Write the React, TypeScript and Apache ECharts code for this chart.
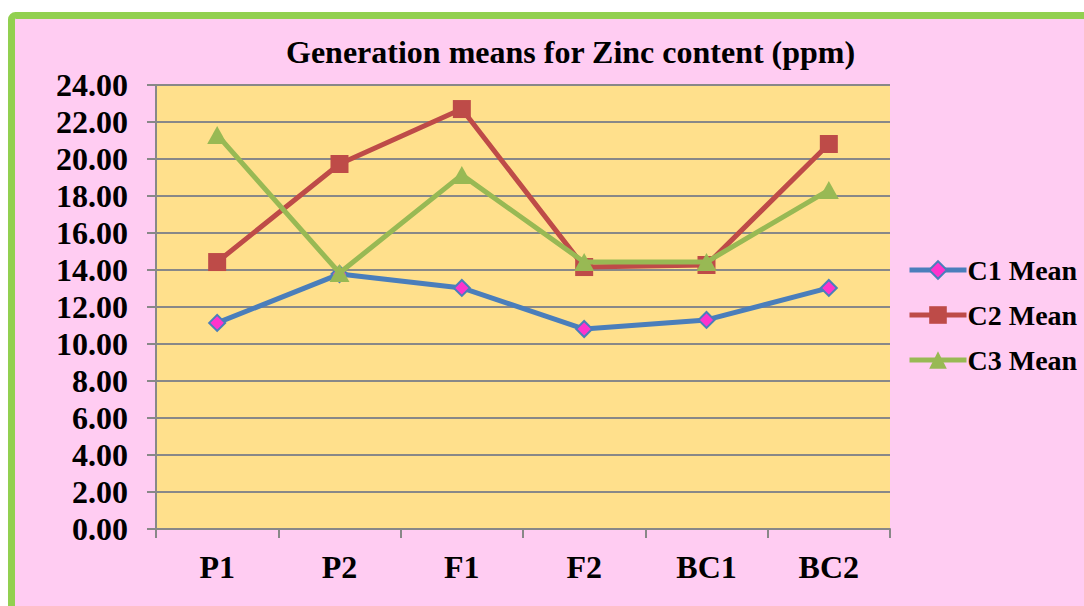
import React, { useEffect, useRef } from "react";
import * as echarts from "echarts";

const categories = ["P1", "P2", "F1", "F2", "BC1", "BC2"];
const c1Mean = [11.14, 13.78, 13.03, 10.81, 11.3, 13.03];
const c2Mean = [14.43, 19.73, 22.7, 14.16, 14.27, 20.81];
const c3Mean = [21.3, 13.84, 19.14, 14.43, 14.43, 18.32];
const seriesNames = ["C1 Mean", "C2 Mean", "C3 Mean"];
const titleText = "Generation means for Zinc content (ppm)";

const FONT = "'Liberation Serif', 'Times New Roman', serif";

export default function App() {
  const ref = useRef<HTMLDivElement>(null);
  useEffect(() => {
    if (!ref.current) return;
    const chart = echarts.init(ref.current, undefined, { renderer: "svg" });
    const gray = "#888888";
    chart.setOption({
      animation: false,
      backgroundColor: "#ffffff",
      graphic: [
        {
          type: "rect",
          z: -10,
          shape: { x: 11.5, y: 15.5, width: 1100, height: 620, r: 4 },
          style: { fill: "#FFCCF2", stroke: "#92D050", lineWidth: 7 },
        },
      ],
      title: {
        text: titleText,
        left: 286,
        top: 36,
        padding: 0,
        textStyle: { fontFamily: FONT, fontWeight: "bold", fontSize: 32, color: "#000" },
      },
      legend: {
        orient: "vertical",
        left: 907,
        top: 256,
        itemWidth: 57,
        itemHeight: 22,
        itemGap: 17,
        padding: 0,
        data: seriesNames,
        lineStyle: { width: 5 },
        textStyle: { fontFamily: FONT, fontWeight: "bold", fontSize: 28, color: "#000", padding: [0, 0, 0, -4] },
      },
      grid: {
        left: 156,
        top: 85,
        width: 734,
        height: 444,
        show: true,
        backgroundColor: "#FFE08C",
        borderWidth: 0,
      },
      xAxis: {
        type: "category",
        data: categories,
        boundaryGap: true,
        axisLine: { show: true, lineStyle: { color: gray, width: 2 } },
        axisTick: { show: true, length: 9, interval: 0, lineStyle: { color: gray, width: 2 } },
        axisLabel: { margin: 22, fontFamily: FONT, fontWeight: "bold", fontSize: 32, color: "#000" },
        splitLine: { show: false },
      },
      yAxis: {
        type: "value",
        min: 0,
        max: 24,
        interval: 2,
        axisLine: { show: true, lineStyle: { color: gray, width: 2 } },
        axisTick: { show: true, length: 9, lineStyle: { color: gray, width: 2 } },
        axisLabel: {
          margin: 28,
          formatter: (v: number) => v.toFixed(2),
          fontFamily: FONT,
          fontWeight: "bold",
          fontSize: 32,
          color: "#000",
        },
        splitLine: { show: true, lineStyle: { color: gray, width: 2 } },
      },
      series: [
        {
          name: seriesNames[0],
          type: "line",
          data: c1Mean,
          symbol: "diamond",
          symbolSize: 16,
          lineStyle: { color: "#4A7EBB", width: 5 },
          itemStyle: { color: "#FF33CC", borderColor: "#4A7EBB", borderWidth: 2 },
          z: 3,
        },
        {
          name: seriesNames[1],
          type: "line",
          data: c2Mean,
          symbol: "rect",
          symbolSize: 18,
          lineStyle: { color: "#BE4B48", width: 5 },
          itemStyle: { color: "#BE4B48" },
          z: 4,
        },
        {
          name: seriesNames[2],
          type: "line",
          data: c3Mean,
          symbol: "triangle",
          symbolSize: [20, 18],
          lineStyle: { color: "#98B954", width: 5 },
          itemStyle: { color: "#98B954" },
          z: 5,
        },
      ],
    });
    return () => chart.dispose();
  }, []);
  return (
    <div
      ref={ref}
      style={{ position: "absolute", left: 0, top: 0, width: 1084, height: 606 }}
    />
  );
}
